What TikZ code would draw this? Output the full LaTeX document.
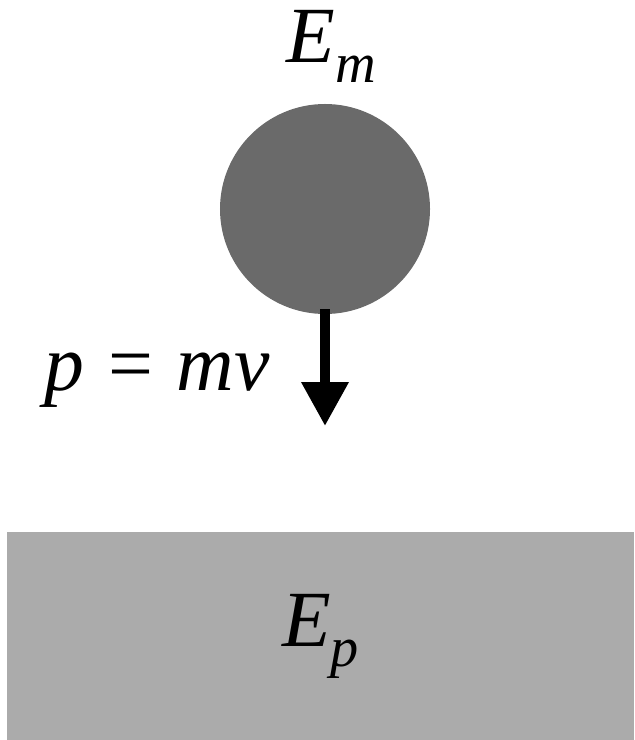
\documentclass[tikz,border=0pt]{standalone}
\usepackage{fontspec}
\setmainfont{Liberation Serif}
\usepackage{tikz}
\usetikzlibrary{arrows.meta,positioning}
\definecolor{ballgray}{RGB}{106,106,106}
\definecolor{floorgray}{RGB}{171,171,171}
\tikzset{
  lbl/.style={font=\fontsize{68}{76}\selectfont\itshape,inner sep=0pt,anchor=base},
  ball/.style={circle,fill=ballgray,minimum size=6.3cm,inner sep=0pt},
  slab/.style={rectangle,fill=floorgray,minimum width=18.81cm,minimum height=6.24cm,
    inner sep=0pt,font=\fontsize{68}{76}\selectfont\itshape},
  fall/.style={line width=0.3cm,-{Triangle[length=1.32cm,width=1.35cm]}},
}
\newcommand{\sub}[1]{\raisebox{-0.25em}{\fontsize{48}{48}\selectfont #1}}

\begin{document}
\begin{tikzpicture}[x=0.03cm,y=-0.03cm]
  \useasboundingbox (0,0) rectangle (634,740);
  % falling mass
  \node[ball] (mass) at (325,209) {};
  \node[lbl] (em) at (331,63) {E\sub{m}};
  \coordinate (tip) at (325,426);
  \draw[fall] ([yshift=0.15cm]mass.south) -- (tip);
  \node[lbl] (mom) at (157,390) {p\hspace{0.3em}\upshape=\hspace{0.3em}\itshape mv};
  % ground
  \node[slab] (ground) at (320.5,636) {E\sub{p}};
\end{tikzpicture}
\end{document}
